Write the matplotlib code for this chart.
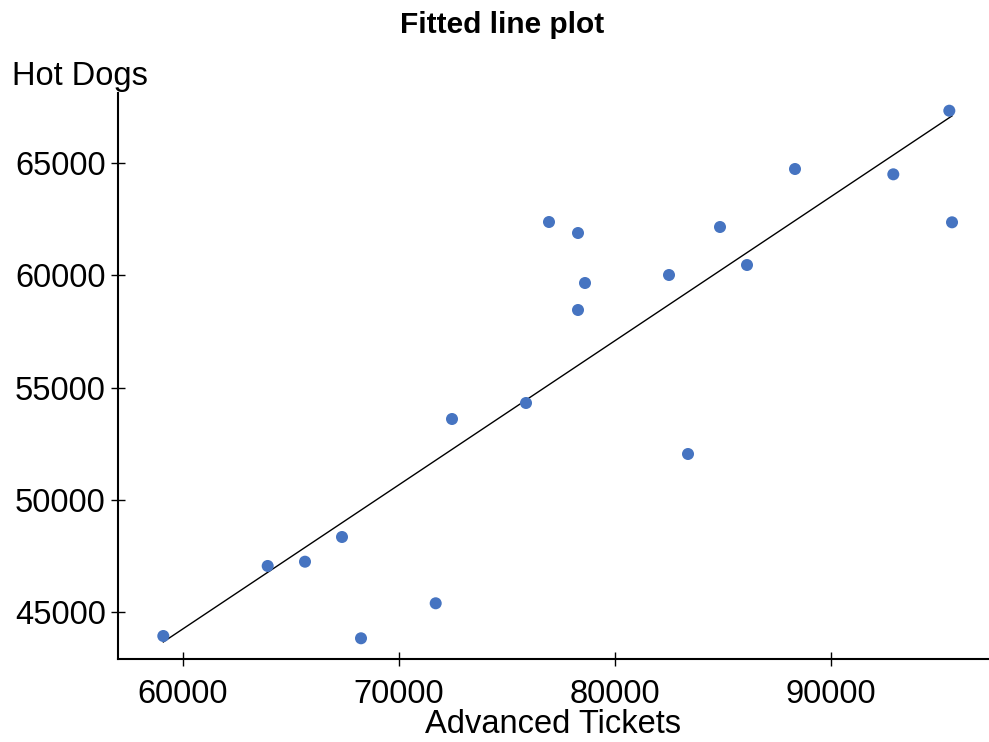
import numpy as np
import matplotlib
matplotlib.use("Agg")
import matplotlib.pyplot as plt

plt.rcParams['font.family'] = ['Liberation Sans', 'DejaVu Sans']

# values
advanced_tickets = [59102, 63935, 65662, 67375, 68255, 71713, 72468, 75894, 76958, 78301,
                    78301, 78625, 82514, 83394, 84875, 86125, 88347, 92898, 95491, 95616]
hot_dogs = [43916, 47039, 47230, 48332, 43814, 45375, 53595, 54309, 62382, 61891,
            58457, 59661, 60018, 52034, 62159, 60464, 64746, 64509, 67346, 62368]
x_ticks = [60000, 70000, 80000, 90000]
y_ticks = [45000, 50000, 55000, 60000, 65000]

x = np.array(advanced_tickets)
y = np.array(hot_dogs)

# least squares line over the data range
slope, intercept = np.polyfit(x, y, 1)
line_x = np.array([x.min(), x.max()])
line_y = slope * line_x + intercept

fig = plt.figure(figsize=(9.89, 7.42), dpi=100)
ax = fig.add_axes([118/989, 1 - 659/742, (988 - 118)/989, (659 - 93)/742])

ax.plot(line_x, line_y, color='black', lw=1.0, zorder=2)
ax.scatter(x, y, s=75, color='#4674c1', edgecolors='none', zorder=3)

ax.set_xlim(57005, 97282)
ax.set_ylim(42890, 68136)
ax.set_xticks(x_ticks)
ax.set_yticks(y_ticks)
ax.set_xticklabels([str(v) for v in x_ticks])
ax.set_yticklabels([str(v) for v in y_ticks])

for side in ['top', 'right']:
    ax.spines[side].set_visible(False)
for side in ['left', 'bottom']:
    ax.spines[side].set_linewidth(1.5)
ax.tick_params(direction='inout', length=9.5, width=1.0, labelsize=23.5, colors='black')
ax.tick_params(axis='x', pad=10)
ax.tick_params(axis='y', pad=4)

ax.set_xlabel('Advanced Tickets', fontsize=23.5, labelpad=-1)
fig.text(12/989, 1 - 85/742, 'Hot Dogs', fontsize=23.5, va='baseline', ha='left')
fig.text(502/989, 1 - 33/742, 'Fitted line plot', fontsize=21.5, fontweight='bold',
         va='baseline', ha='center')

fig.savefig('out.png', dpi=100)
